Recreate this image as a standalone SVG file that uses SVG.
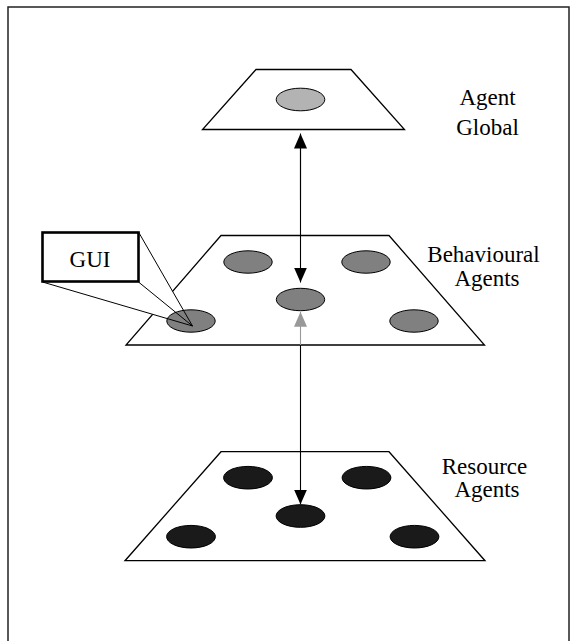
<svg xmlns="http://www.w3.org/2000/svg" width="577" height="641" viewBox="0 0 577 641">
<style>
.plane{fill:#fff;stroke:#000;stroke-width:1.3}
.ag{stroke:#000;stroke-width:1}
.g1{fill:#b3b3b3}
.g2{fill:#808080}
.g3{fill:#1a1a1a}
.lbl{font-size:23px;fill:#000;text-anchor:middle}
.con{stroke:#000;stroke-width:1.1;fill:none}
</style>
<defs>
<marker id="ah" viewBox="0 0 15 13" refX="15" refY="6.5" markerWidth="15" markerHeight="13" markerUnits="userSpaceOnUse" orient="auto">
<path d="M0,0 L15,6.5 L0,13 Z" fill="#000"/>
</marker>
<marker id="ahg" viewBox="0 0 15 13" refX="15" refY="6.5" markerWidth="15" markerHeight="13" markerUnits="userSpaceOnUse" orient="auto">
<path d="M0,0 L15,6.5 L0,13 Z" fill="#999"/>
</marker>
</defs>
<rect x="8" y="7" width="561" height="640" fill="#fff" stroke="#222" stroke-width="1.5"/>

<g id="global-layer">
<polygon class="plane" points="256,69.5 351,69.5 404.5,129.5 202.5,129.5"/>
<ellipse class="ag g1" cx="300.5" cy="99.5" rx="24.3" ry="11.3"/>
<text class="lbl" font-family="'Liberation Serif', 'Times New Roman', serif" x="487.5" y="105">Agent</text>
<text class="lbl" font-family="'Liberation Serif', 'Times New Roman', serif" x="487.5" y="135">Global</text>
</g>

<g id="behavioural-layer">
<polygon class="plane" points="221,235.5 389,235.5 484.5,345 126,345"/>
<polygon points="42.5,282 192.5,326 138.5,232 42.5,232" fill="#fff" stroke="none"/>
<ellipse class="ag g2" cx="248" cy="262" rx="24.2" ry="11.2"/>
<ellipse class="ag g2" cx="366" cy="262" rx="24.2" ry="11.2"/>
<ellipse class="ag g2" cx="300.5" cy="299.5" rx="24.2" ry="11.2"/>
<ellipse class="ag g2" cx="191" cy="321" rx="24.2" ry="11.2"/>
<ellipse class="ag g2" cx="414" cy="321" rx="24.2" ry="11.2"/>
<text class="lbl" font-family="'Liberation Serif', 'Times New Roman', serif" x="483.5" y="261.5">Behavioural</text>
<text class="lbl" font-family="'Liberation Serif', 'Times New Roman', serif" x="487" y="285.5">Agents</text>
</g>

<g id="gui">
<line x1="42.5" y1="282" x2="192.5" y2="326" stroke="#000" stroke-width="1"/>
<line x1="138.5" y1="282" x2="192.5" y2="326" stroke="#000" stroke-width="1"/>
<line x1="138.5" y1="232" x2="192.5" y2="326" stroke="#000" stroke-width="1"/>
<rect x="42.5" y="232.5" width="96" height="49" fill="#fff" stroke="#000" stroke-width="2.6"/>
<text class="lbl" font-family="'Liberation Serif', 'Times New Roman', serif" x="90" y="266.5" font-size="22">GUI</text>
</g>

<g id="resource-layer">
<polygon class="plane" points="221,451.7 389,451.7 485,560.7 125,560.7"/>
<ellipse class="ag g3" cx="248" cy="477.7" rx="24.4" ry="11.3"/>
<ellipse class="ag g3" cx="366.5" cy="477.7" rx="24.4" ry="11.3"/>
<ellipse class="ag g3" cx="300.5" cy="516" rx="24.4" ry="11.3"/>
<ellipse class="ag g3" cx="191" cy="536.7" rx="24.4" ry="11.3"/>
<ellipse class="ag g3" cx="414.5" cy="536.7" rx="24.4" ry="11.3"/>
<text class="lbl" font-family="'Liberation Serif', 'Times New Roman', serif" x="484.5" y="474">Resource</text>
<text class="lbl" font-family="'Liberation Serif', 'Times New Roman', serif" x="487" y="497">Agents</text>
</g>

<g id="connectors">
<line class="con" x1="300.5" y1="200" x2="300.5" y2="133.5" marker-end="url(#ah)"/>
<line class="con" x1="300.5" y1="140" x2="300.5" y2="282.5" marker-end="url(#ah)"/>
<line x1="300.5" y1="345" x2="300.5" y2="311.8" stroke="#999" stroke-width="1.1" marker-end="url(#ahg)"/>
<line class="con" x1="300.5" y1="345" x2="300.5" y2="504.5" marker-end="url(#ah)"/>
</g>
</svg>
